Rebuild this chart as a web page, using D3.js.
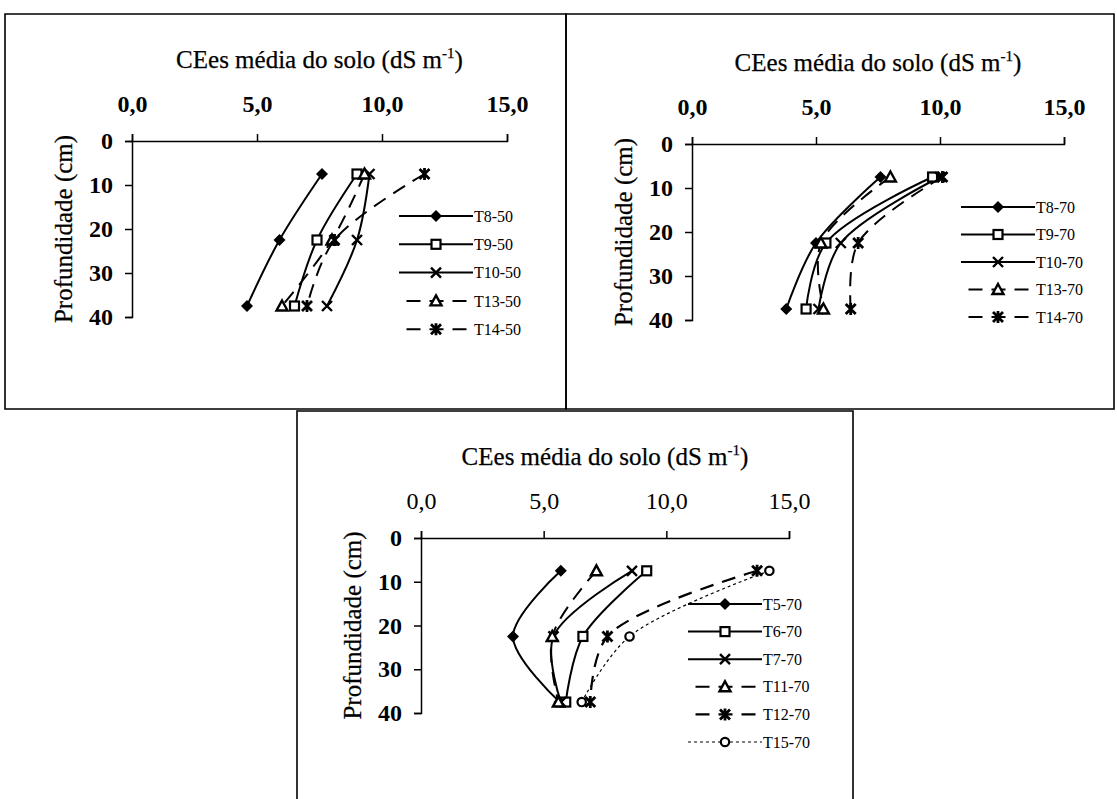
<!DOCTYPE html>
<html>
<head>
<meta charset="utf-8">
<script src="https://cdn.jsdelivr.net/npm/d3@7"></script>
<style>
  body { margin: 0; background: #fff; }
  svg { display: block; }
  text { font-family: "Liberation Serif", "Times New Roman", serif; fill: #000; }
</style>
</head>
<body>
<svg id="chart" width="1117" height="799"></svg>
<script>
// ---- data ----
const depths = [7.5, 22.5, 37.5];              // profundidade (cm)
const xTickValues = [0, 5, 10, 15];
const yTickValues = [0, 10, 20, 30, 40];
const xTitleText = "CEes média do solo (dS m";
const yTitleText = "Profundidade (cm)";

// 50% lâmina
const names50 = ["T8-50", "T9-50", "T10-50", "T13-50", "T14-50"];
const values50 = [
  [7.6, 5.9, 4.6],
  [9.0, 7.4, 6.5],
  [9.5, 9.0, 7.8],
  [9.3, 8.0, 6.0],
  [11.7, 8.1, 7.0]
];

// 70% lâmina (tratamentos 8–14)
const names70a = ["T8-70", "T9-70", "T10-70", "T13-70", "T14-70"];
const values70a = [
  [7.6, 5.0, 3.8],
  [9.7, 5.4, 4.6],
  [10.0, 6.0, 5.1],
  [8.0, 5.2, 5.3],
  [10.1, 6.7, 6.4]
];

// 70% lâmina (tratamentos 5–15)
const names70b = ["T5-70", "T6-70", "T7-70", "T11-70", "T12-70", "T15-70"];
const values70b = [
  [5.7, 3.75, 5.65],
  [9.2, 6.6, 5.9],
  [8.6, 5.4, 5.7],
  [7.15, 5.35, 5.6],
  [13.7, 7.6, 6.9],
  [14.2, 8.5, 6.55]
];

// ---- series styles, keyed by treatment ----
const SOLID = null, DASH = "14 9", DOT = "3 3";
const seriesStyle = {
  T5:  { marker: "diamond",  dash: SOLID, width: 2 },
  T8:  { marker: "diamond",  dash: SOLID, width: 2 },
  T6:  { marker: "square",   dash: SOLID, width: 2 },
  T9:  { marker: "square",   dash: SOLID, width: 2 },
  T7:  { marker: "x",        dash: SOLID, width: 2 },
  T10: { marker: "x",        dash: SOLID, width: 2 },
  T11: { marker: "triangle", dash: DASH,  width: 2 },
  T13: { marker: "triangle", dash: DASH,  width: 2 },
  T12: { marker: "star",     dash: DASH,  width: 2.2 },
  T14: { marker: "star",     dash: DASH,  width: 2 },
  T15: { marker: "circle",   dash: DOT,   width: 1.2 }
};
const styleOf = name => seriesStyle[name.split("-")[0]];

// ---- panel layout ----
const panels = [
  { names: names50,  values: values50,
    frame: { x: 5, y: 14, w: 561, h: 395, bottom: true },
    xr: [132, 507], yr: [141, 317], legend: { x: 399, y: 216, step: 28.3 } },
  { names: names70a, values: values70a,
    frame: { x: 566, y: 14, w: 548, h: 395, bottom: true },
    xr: [692, 1064], yr: [144, 320], legend: { x: 961, y: 207, step: 27.5 } },
  { names: names70b, values: values70b,
    frame: { x: 297, y: 411, w: 556, h: 400, bottom: false },
    xr: [421, 789], yr: [538, 713], legend: { x: 688, y: 604, step: 27.6 }, lightTicks: true }
];

const svg = d3.select("#chart");
const fmt = v => d3.format(".1f")(v).replace(".", ",");
const SERIF = "Liberation Serif";

function drawMarker(g, type, cx, cy) {
  const m = g.append("g").attr("transform", `translate(${cx},${cy})`);
  switch (type) {
    case "diamond":
      m.append("path").attr("d", "M0,-6L6,0L0,6L-6,0Z").attr("fill", "#000");
      break;
    case "square":
      m.append("rect").attr("x", -4.5).attr("y", -4.5).attr("width", 9).attr("height", 9)
        .attr("fill", "#fff").attr("stroke", "#000").attr("stroke-width", 2.2);
      break;
    case "x":
      m.append("path").attr("d", "M-5,-5L5,5M-5,5L5,-5")
        .attr("stroke", "#000").attr("stroke-width", 2.4).attr("fill", "none");
      break;
    case "triangle":
      m.append("path").attr("d", "M0,-5.5L5.5,4.5L-5.5,4.5Z")
        .attr("fill", "#fff").attr("stroke", "#000").attr("stroke-width", 2.4);
      break;
    case "star":
      m.append("path").attr("d", "M-5,-5L5,5M-5,5L5,-5M0,-6V6")
        .attr("stroke", "#000").attr("stroke-width", 2.8).attr("fill", "none");
      break;
    case "circle":
      m.append("circle").attr("r", 4.2)
        .attr("fill", "#fff").attr("stroke", "#000").attr("stroke-width", 2.2);
      break;
  }
}

panels.forEach(p => {
  const g = svg.append("g");

  // frame
  const f = p.frame;
  const framePath = f.bottom
    ? `M${f.x},${f.y}H${f.x + f.w}V${f.y + f.h}H${f.x}Z`
    : `M${f.x},${f.y + f.h}V${f.y}H${f.x + f.w}V${f.y + f.h}`;
  g.append("path").attr("d", framePath).attr("fill", "none")
    .attr("stroke", "#000").attr("stroke-width", 1.6);

  const x = d3.scaleLinear().domain([0, 15]).range(p.xr);
  const y = d3.scaleLinear().domain([0, 40]).range(p.yr);

  // top x axis
  const xAxis = g.append("g").attr("transform", `translate(0,${p.yr[0]})`)
    .call(d3.axisTop(x).tickValues(xTickValues).tickFormat(fmt)
      .tickSize(7).tickPadding(22));
  xAxis.selectAll("text").attr("font-size", 24)
    .attr("font-weight", p.lightTicks ? "normal" : "bold")
    .attr("font-family", SERIF);

  // left y axis
  const yAxis = g.append("g").attr("transform", `translate(${p.xr[0]},0)`)
    .call(d3.axisLeft(y).tickValues(yTickValues).tickFormat(d3.format("d"))
      .tickSize(7).tickPadding(12));
  yAxis.selectAll("text").attr("font-size", 24).attr("font-weight", "bold")
    .attr("font-family", SERIF);

  [xAxis, yAxis].forEach(a => {
    a.selectAll("path, line").attr("stroke", "#000").attr("stroke-width", 1.5);
  });

  // axis titles
  const cx = (p.xr[0] + p.xr[1]) / 2;
  const t = g.append("text").attr("x", cx).attr("y", p.yr[0] - 73)
    .attr("text-anchor", "middle").attr("font-size", 25).attr("font-family", SERIF)
    .attr("stroke", "#000").attr("stroke-width", 0.25);
  t.append("tspan").text(xTitleText);
  t.append("tspan").text("-1").attr("font-size", 15).attr("dy", -10);
  t.append("tspan").text(")").attr("dy", 10);

  g.append("text")
    .attr("transform", `translate(${p.xr[0] - 60},${y(20)}) rotate(-90)`)
    .attr("text-anchor", "middle").attr("font-size", 25).attr("font-family", SERIF)
    .attr("stroke", "#000").attr("stroke-width", 0.25)
    .text(yTitleText);

  // series lines
  const line = d3.line()
    .x(d => x(d.v)).y(d => y(d.d))
    .curve(d3.curveCatmullRom.alpha(0.5));

  const series = p.names.map((name, i) => ({
    name, style: styleOf(name),
    pts: p.values[i].map((v, j) => ({ v, d: depths[j] }))
  }));

  series.forEach(s => {
    g.append("path").datum(s.pts).attr("d", line)
      .attr("fill", "none").attr("stroke", "#000")
      .attr("stroke-width", s.style.width)
      .attr("stroke-dasharray", s.style.dash);
  });
  series.forEach(s => {
    s.pts.forEach(pt => drawMarker(g, s.style.marker, x(pt.v), y(pt.d)));
  });

  // legend
  const L = p.legend, len = 74;
  series.forEach((s, i) => {
    const ly = L.y + i * L.step;
    const sample = g.append("line")
      .attr("x1", L.x).attr("x2", L.x + len).attr("y1", ly).attr("y2", ly)
      .attr("stroke", "#000").attr("stroke-width", s.style.width)
      .attr("stroke-dasharray", s.style.dash);
    if (s.style.dash === DASH) sample.attr("stroke-dashoffset", 15.5);
    drawMarker(g, s.style.marker, L.x + len / 2, ly);
    g.append("text").attr("x", L.x + len + 1).attr("y", ly).attr("dy", "0.35em")
      .attr("font-size", 16).attr("font-family", SERIF).text(s.name);
  });
});
</script>
</body>
</html>
